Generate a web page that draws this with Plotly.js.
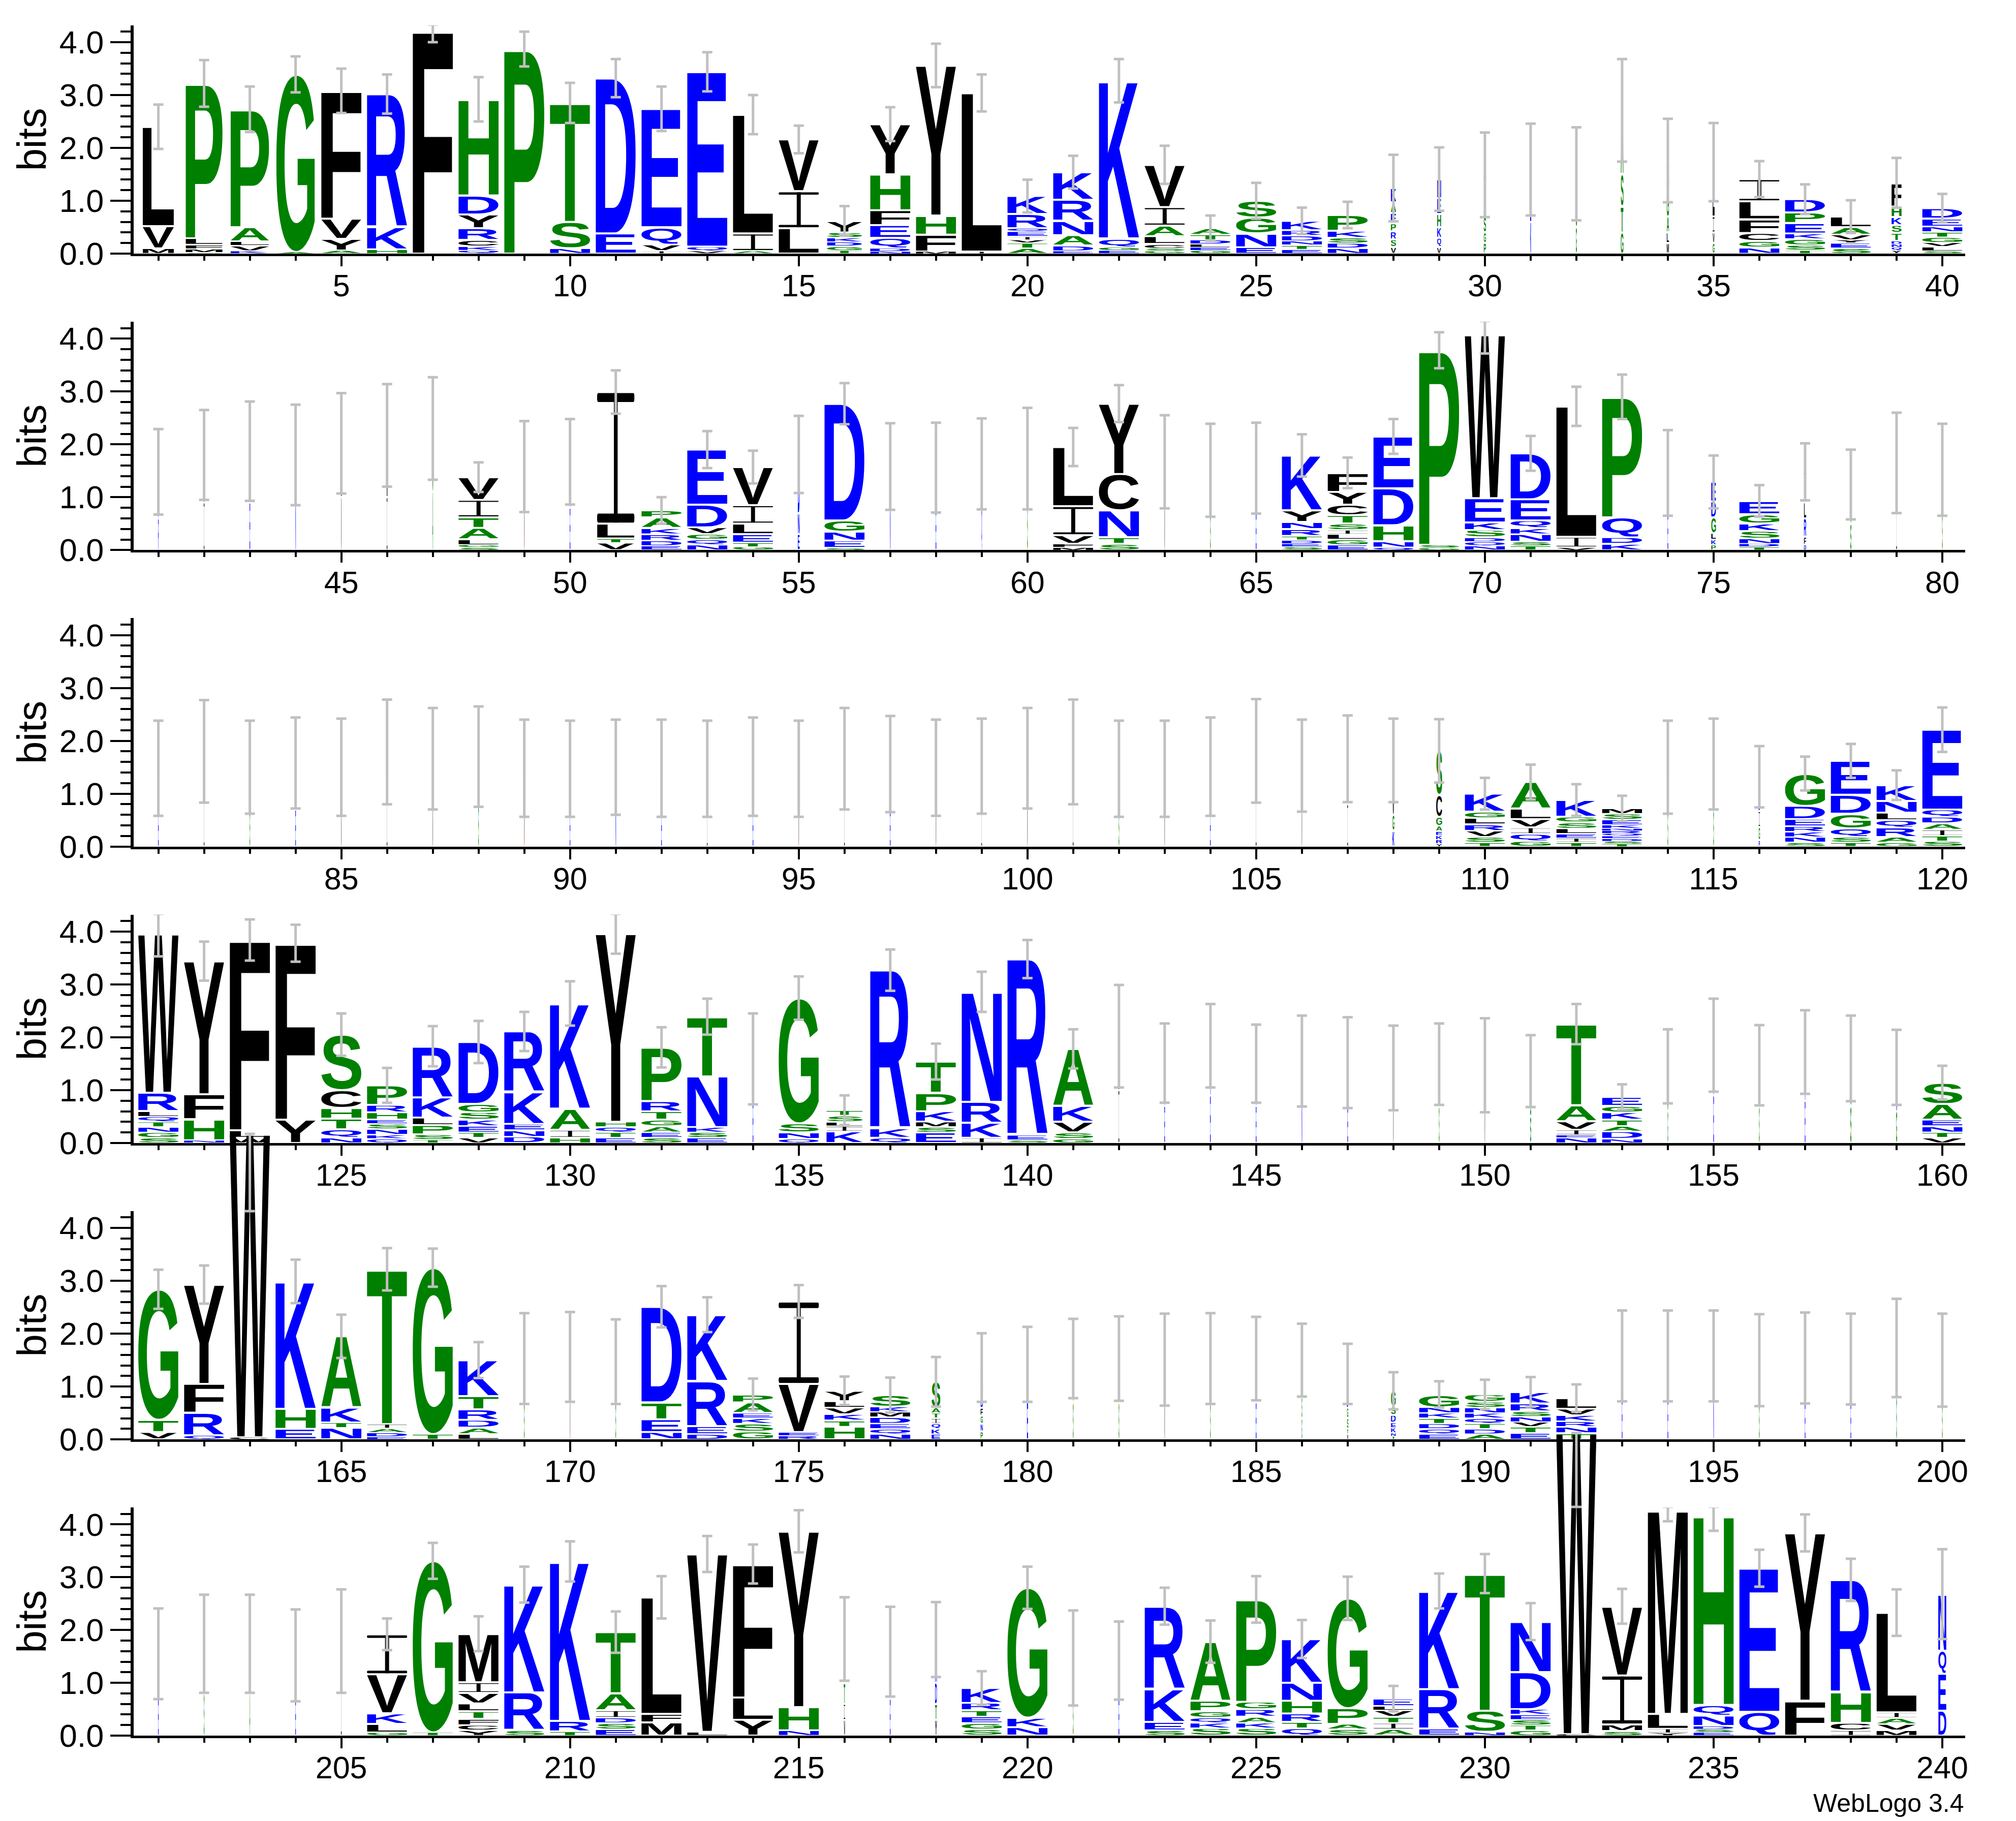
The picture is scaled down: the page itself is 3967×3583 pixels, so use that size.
<!DOCTYPE html>
<html><head><meta charset="utf-8">
<script src="https://cdn.plot.ly/plotly-3.0.1.min.js"></script>
<style>html,body{margin:0;padding:0;background:#fff}#plot{width:3967px;height:3583px}</style>
</head><body><div id="plot"></div>
<script>
// ---------- DATA (letters bottom -> top, height in bits) ----------
const stacks = [
// 1-40
"M.1 V.42 L1.88","G.02 M.07 F.08 L.12 P2.93","K.05 V.1 L.08 A.27 P2.23","A.03 G3.36","A.06 Y.22 V.38 F2.42",
"H.08 K.42 R2.52","F4.22","Q.06 K.08 C.12 R.22 Y.26 D.36 H1.82","P3.87","N.1 S.5 T2.25",
"E.38 D2.94","I.05 V.12 Q.33 E2.24","V.05 Q.08 E3.31","A.05 I.33 L2.25","L.48 I.7 V.98",
"T.06 G.08 D.08 K.08 S.1 Y.22","N.04 D.06 Q.2 E.24 F.28 H.68 Y.95","M.04 F.32 H.36 Y2.84","I.04 L3.0","A.1 T.1 V.06 I.06 E.1 Q.06 R.27 K.34",
"E.05 D.1 A.2 N.27 R.4 K.52","E.06 G.06 Q.17 K2.98","G.05 S.05 C.08 L.15 A.2 I.35 V.8","G.06 E.06 L.06 D.08 T.1 A.12","E.12 N.26 G.3 S.32",
"E.08 T.08 N.08 D.1 R.1 K.18","N.1 D.1 S.1 K.13 P.3","V.12 S.15 R.15 P.15 E.2 A.2 K.27","V.12 Q.18 K.2 H.25 E.3 N.36","P.2 G.2 S.3 A.4 T.39",
"K.6 E.5 N.49","G.5 S.5 A.51","G.4 T.5 S.6 A1.21","M.2 L.2 A.3 G.5 S.56","G.2 V.2 I.3 L1.03",
"N.12 G.12 C.15 F.26 L.34 I.42","T.06 S.1 G.12 K.1 E.2 P.2 D.25","S.1 E.1 Y.06 V.1 A.14 L.2","Y.06 Q.06 N.06 D.06 T.15 S.15 K.15 H.2 F.45","S.05 L.08 V.08 G.1 T.1 N.1 E.15 D.2",
// 41-80
"R.6 K.88","I.9 L.9","E.9 D.97","N.9 K.9","V1.0 L1.02",
"I1.0 L1.17","A1.1 G1.2","S.05 G.05 L.1 A.22 T.2 I.33 V.43","V.8 L.78","E.8 K.87",
"V.14 T.08 L.28 I2.49","E.08 D.1 R.12 K.12 A.2 P.13","N.1 Q.1 G.1 V.13 D.43 E1.04","G.06 T.08 E.16 L.2 I.35 V.72","E.3 N.4 D1.11",
"S.04 E.14 N.17 G.21 D2.21","N.8 K.78","E.8 K.76","Q.8 D.83","S.9 G.83",
"M.05 F.07 V.16 I.55 L1.12","S.12 T.12 N.51 C.69 Y1.33","V.8 L.87","S.7 G.81","E.7 K.85",
"S.06 E.06 D.07 T.08 R.13 N.13 Y.22 K1.04","E.1 G.1 L.1 I.08 S.12 T.16 C.2 Y.24 F.36","Q.05 N.12 H.3 D.7 E.98","G.04 S.06 P3.68","N.08 Q.08 D.08 S.14 K.14 E.46 W3.09",
"T.08 S.08 N.14 K.12 Q.14 E.4 D.87","V.05 I.2 L2.47","K.12 D.12 Q.38 P2.28","E.7 K.76","P.1 K.1 L.12 G.3 D.3 E.37",
"T.06 D.06 N.1 S.14 K.14 G.18 E.25","D.1 F.15 R.35 L.3 I.58","S.5 G.74","I.8 L.85","S.7 G.82",
// 81-120
"E.7 K.78","I.9 L.9","S.7 G.8","E.7 K.88","V.7 L.8",
"I.9 L.89","V.8 L.86","S.8 G.9","V.7 L.78","E.7 K.77",
"N.7 K.8","E.7 D.78","I.7 L.77","E.7 K.81","V.7 L.77",
"I.8 L.86","E.7 K.86","V.7 L.79","I.7 L.82","V.8 L.87",
"I.9 L.89","S.7 G.77","V.7 L.77","E.7 K.81","I.9 L.91",
"V.7 L.83","I.8 L.86","K.3 G.3 V.4 A.63","Y.05 R.08 K.08 E.08 A.1 G.17 C.42 S.83","T.08 S.1 V.12 R.12 L.12 G.12 K.34",
"G.1 Q.14 I.12 V.16 L.2 A.5","T.08 I.08 E.08 L.1 S.12 G.1 K.32","T.05 S.05 D.05 E.05 Q.05 R.05 N.04 K.07 E.1 S.11 M.1","S.7 G.8","S.7 G.86",
"R.12 G.25 I.3 D.65","S.08 N.1 K.1 R.1 E.14 D.25 G.61","T.08 S.1 Q.16 G.28 D.36 E.64","G.08 A.1 R.18 Q.14 L.14 N.22 K.3","S.1 T.1 I.12 A.12 D.12 Q.14 E1.51",
// 121-160
"S.1 G.1 N.1 T.1 Q.1 L.1 R.35 W3.0","N.05 H.4 F.47 Y2.52","W.1 L.14 F3.6","Y.44 F3.34","N.1 Q.16 T.2 H.2 C.34 S1.05",
"Q.08 K.08 N.1 S.1 E.08 H.14 R.14 P.37","T.06 S.1 P.18 L.14 K.38 R.97","V.1 T.1 E.12 K.12 S.14 G.16 D1.17","D.12 N.12 E.12 K.6 R1.15","H.1 I.15 A.4 K1.99",
"E.1 T.1 Q.1 H.1 Y3.56","S.1 E.1 A.12 G.12 T.16 R.19 P1.02","E.1 S.1 K.1 N.96 T1.13","E.8 K.79","Q.08 N.12 S.17 G2.37",
"K.22 I.1 L.08 S.12 T.1","Q.1 K.18 R2.99","E.2 S.1 M.1 K.2 P.35 T.59","I.1 K.28 R.4 N2.08","S.05 E.1 R3.33",
"G.08 S.12 V.2 K.3 A1.08","I1.0 L1.02","E.7 K.81","E.9 K.94","E.7 K.8",
"N.7 K.85","E.7 D.82","V.7 L.72","S.7 G.79","V.7 L.77",
"S.5 G.5 K.36","N.1 E.05 I.1 V.16 A.3 T1.54","N.08 D.14 A.1 T.12 K.14 G.12 E.17","G.6 S.85","E.9 K.95",
"S.7 G.77","E.8 K.92","S.7 G.9","G.6 N.83","V.1 T.1 N.12 E.12 A.3 S.4",
// 161-200
"V.14 T.23 G2.47","Q.08 R.42 F.55 Y1.88","C.04 W5.74","E.2 H.38 K2.41","N.22 T.1 K.28 A1.35",
"E.05 D.08 A.08 I.08 T2.93","T.1 G3.15","L.1 A.12 D.15 R.2 T.25 K.68","S.7 G.83","V.7 L.86",
"S.7 G.77","N.14 E.24 T.32 D1.81","D.1 E.15 R.86 K1.25","G.15 S.15 K.1 E.1 A.2 P.15","R.07 E.07 V.91 I1.56",
"H.24 T.12 K.12 V.12 L.12 Y.2","N.1 Q.1 E.1 D.12 M.1 K.1 S.22","E.1 K.1 Q.1 I.1 T.1 A.1 S.49","P.15 N.15 G.15 F.15 D.2 S.56","E.7 K.72",
"S.7 G.83","S.7 G.83","V.7 L.81","S.7 G.83","E.7 K.83",
"G.4 S.4 V.7","V.1 T.1 S.2 G.2 D.64","T.06 N.06 K.1 E.1 D.14 S.16 G.3","E.1 Q.1 D.1 T.1 K.1 N.11 G.24","A.1 D.1 T.1 Q.1 K.1 N.1 S.11 G.14",
"E.12 T.12 V.09 N.1 S.1 R.15 K.22","T.12 N.12 R.1 K.12 V.12 L.2","E.8 K.78","E.8 K.78","N.8 K.78",
"S.7 G.8","E.7 K.84","E.7 K.82","S.8 G.93","S.7 G.8",
// 201-240
"E.7 K.85","S.8 G.94","A.8 G.94","E.7 K.82","I.9 L.89",
"G.06 L.16 K.2 V.74 I.76","T.06 G3.25","Y.1 C.1 F.12 T.14 L.15 V.2 I.2 M.92","S.1 R.72 K2.04","T.08 R.2 K3.02",
"E.12 S.12 D.1 I.14 A.32 T1.16","M.25 F.16 L2.21","L.07 V3.37","Y.3 L.42 F2.53","N.1 H.44 Y3.33",
"V.3 I.3 T.4 G.83","E.7 K.89","Y.3 T.3 D.4 R.4 K.42","S.12 G.12 E.12 T.12 R.14 K.28","N.16 K.18 G2.46",
"S.7 G.77","E.7 K.72","S.1 E.16 K.62 R1.57","S.14 K.1 Q.1 G.12 P.2 A1.12","S.14 K.1 A.12 R.14 G.14 P1.94",
"Q.14 T.12 R.16 H.24 N.34 K.83","S.12 A.1 P.3 G2.08","A.12 I.12 T.12 V.12 L.08 E.14","E.13 R.75 K1.86","N.07 S.4 T2.6",
"G.1 T.1 S.1 E.1 K.1 D.7 N.96","C.03 W5.7","S.09 M.12 I.93 V1.31","Y.05 I.08 L.28 M3.87","E.06 S.06 D.06 N.2 Q.2 H3.59",
"Q.45 E2.72","F.66 Y3.18","I.1 C.14 H.58 R2.13","M.1 V.12 A.12 I.1 L1.89","D.47 E.7 Q.44 N1.07"
];

// stack width as a fraction of the full column width
const widthFrac = [
.78,.92,.96,.96,1,1,1,1,1,1, 1,1,1,1,1,.87,1,1,1,1, 1,1,1,1,1,1,1,.13,.1,.06, .03,.03,.07,.06,.05,1,1,1,.25,1,
.02,.02,.02,.02,.02,.02,.02,1,.02,.02, .93,1,1,1,.05,1,.02,.02,.02,.02, 1,1,.02,.02,.02,1,1,1,1,1, 1,1,1,.02,.12,1,.06,.03,.02,.02,
.02,.02,.02,.02,.02,.02,.02,.02,.02,.02, .02,.02,.02,.02,.02,.02,.02,.02,.02,.02, .02,.02,.02,.02,.02,.02,.02,.05,.15,1, 1,1,1,.02,.02,.04,1,1,1,1,
1,1,1,1,1,1,1,1,1,1, 1,1,1,.02,1,.9,1,1,1,1, 1,.02,.02,.02,.02,.02,.02,.02,.02,.02, .03,1,1,.02,.02,.02,.02,.03,.03,1,
1,1,1,1,1,1,1,1,.02,.02, .02,1,1,1,1,1,1,.22,.06,.03, .02,.02,.02,.02,.02,.02,.04,.12,1,1, 1,1,.02,.02,.02,.02,.02,.02,.02,.02,
.02,.02,.02,.02,.02,1,1,1,1,1, 1,1,1,1,1,.04,.02,.05,1,1, .02,.02,1,1,1,1,1,1,1,1, 1,1,1,1,1,1,1,1,1,.2
];

// half-length of each error bar (bits)
const errHalf = [
.42,.44,.43,.34,.42,.37,.22,.42,.33,.38, .36,.42,.37,.37,.26,.28,.32,.41,.35,.31, .31,.41,.36,.24,.34,.25,.25,.63,.6,.8, .87,.88,.97,.79,.74,.34,.28,.31,.47,.27,
.81,.85,.94,.95,.95,.97,.97,.28,.86,.81, .41,.25,.35,.31,.73,.39,.82,.85,.86,.96, .36,.35,.88,.88,.86,.4,.29,.33,.34,.35, .33,.37,.42,.81,.5,.3,.54,.66,.95,.87,
.9,.97,.88,.86,.92,.99,.96,.95,.92,.91, .9,.92,.91,.93,.91,.96,.91,.91,.9,.95, .99,.91,.91,.93,.98,.87,.82,.79,.6,.3, .33,.3,.24,.88,.86,.58,.32,.32,.28,.42,
.42,.37,.39,.35,.4,.33,.38,.4,.37,.42, .38,.38,.34,.86,.41,.28,.39,.34,.38,.36, .37,.97,.75,.79,.74,.86,.86,.8,.77,.89, .68,.38,.24,.7,.88,.76,.79,.81,.71,.32,
.37,.36,.55,.41,.41,.4,.36,.34,.86,.85, .8,.39,.33,.3,.31,.27,.33,.47,.65,.71, .75,.8,.87,.86,.79,.69,.57,.35,.25,.28, .28,.26,.86,.86,.86,.87,.86,.86,.93,.88,
.86,.93,.93,.87,.98,.3,.34,.33,.34,.38, .39,.4,.34,.37,.4,.79,.85,.71,.32,.4, .9,.74,.35,.4,.44,.36,.41,.24,.33,.37, .35,.53,.33,.22,.29,.35,.35,.4,.44,.85
];
// error bars that do not sit on the stack top: position -> [low, high] (bits)
const errRangeOverride = {163: [4.32, 5.41], 232: [4.33, 5.39]};

const blackRes = "FLVYWIMC", blueRes = "DEKRNQ", greenRes = "GPASTH";
const xTickStep = 5, yTickStep = 1, perRow = 40, nRows = 6;
const footer = "WebLogo 3.4";

// ---------- GEOMETRY / STYLE ----------
const W = 3967, H = 3583;
const M = {l: 263, r: 100, t: 49, b: 168};
const plotH = H - M.t - M.b;
const PXB = 104;            // px per bit
const YMAX = 4.32, YEXT = 6.3;
const FULLW = 0.88;         // full stack width in position units
const FONT = "Liberation Sans";
const rowBottomPx = r => 499 + 583.3 * r;
const domFor = (r, bits) => {
  const b = (H - M.b - rowBottomPx(r)) / plotH;
  return [Math.max(0, b), Math.min(1, b + bits * PXB / plotH)];
};
const colorOf = {};
for (const c of blackRes) colorOf[c] = "#000000";
for (const c of blueRes) colorOf[c] = "#0000ff";
for (const c of greenRes) colorOf[c] = "#008000";

const cv = document.createElement("canvas");
const ctx = cv.getContext("2d");
ctx.font = `bold 200px "${FONT}"`;
const gcache = {};
function glyph(ch) {
  if (gcache[ch]) return gcache[ch];
  const col = colorOf[ch] || "#000000";
  let svg;
  if (ch === "I") {
    svg = `<svg xmlns="http://www.w3.org/2000/svg" viewBox="0 0 100 100" preserveAspectRatio="none"><g fill="${col}"><rect x="0" y="0" width="100" height="7" rx="3"/><rect x="45" y="0" width="10" height="100"/><rect x="0" y="93" width="100" height="7" rx="3"/></g></svg>`;
  } else {
    const m = ctx.measureText(ch);
    const x0 = -m.actualBoundingBoxLeft, x1 = m.actualBoundingBoxRight;
    const y0 = -m.actualBoundingBoxAscent, y1 = m.actualBoundingBoxDescent;
    svg = `<svg xmlns="http://www.w3.org/2000/svg" viewBox="${x0} ${y0} ${x1 - x0} ${y1 - y0}" preserveAspectRatio="none"><text x="0" y="0" font-family="${FONT}" font-weight="bold" font-size="200" fill="${col}">${ch}</text></svg>`;
  }
  return (gcache[ch] = "data:image/svg+xml;charset=utf-8," + encodeURIComponent(svg));
}
const sfx = n => (n === 1 ? "" : String(n));

const layout = {
  width: W, height: H, margin: M, showlegend: false,
  paper_bgcolor: "white", plot_bgcolor: "rgba(0,0,0,0)",
  font: {family: FONT, color: "black"},
  images: [], annotations: []
};

// need extended (taller) axes for rows whose stacks rise above YMAX
const needExt = {};
for (let i = 0; i < stacks.length; i++) {
  const tot = stacks[i].split(" ").reduce((s, t) => s + parseFloat(t.slice(1)), 0);
  if (tot > YMAX + 0.05) needExt[Math.floor(i / perRow)] = true;
}
const extId = {};
let nextId = nRows + 1;

for (let r = 0; r < nRows; r++) {
  const n = r + 1;
  const xr = [perRow * r + 0.46, perRow * r + perRow + 0.5];
  layout["xaxis" + sfx(n)] = {
    domain: [0, 1], range: xr, anchor: "y" + sfx(n),
    showline: true, linewidth: 5, linecolor: "black", showgrid: false, zeroline: false,
    ticks: "outside", tickmode: "linear", tick0: 0, dtick: xTickStep, ticklen: 20, tickwidth: 4, tickcolor: "black",
    tickfont: {family: FONT, size: 61, color: "black"}, ticklabelstandoff: -14,
    minor: {ticks: "outside", tick0: 0, dtick: 1, ticklen: 9, tickwidth: 4, tickcolor: "black", showgrid: false},
    fixedrange: true
  };
  layout["yaxis" + sfx(n)] = {
    domain: domFor(r, YMAX), range: [0, YMAX], anchor: "x" + sfx(n),
    showline: true, linewidth: 6, linecolor: "black", showgrid: false, zeroline: false,
    ticks: "outside", tickmode: "linear", tick0: 0, dtick: yTickStep, tickformat: ".1f",
    ticklen: 40, tickwidth: 4, tickcolor: "black",
    tickfont: {family: FONT, size: 63, color: "black"},
    minor: {ticks: "outside", tick0: 0, dtick: 0.2, ticklen: 20, tickwidth: 4, tickcolor: "black", showgrid: false},
    title: {text: "bits", font: {family: FONT, size: 80, color: "black"}, standoff: 2},
    fixedrange: true
  };
  if (needExt[r]) {
    const e = nextId++;
    extId[r] = e;
    layout["xaxis" + e] = {domain: [0, 1], range: xr, anchor: "y" + e, visible: false, fixedrange: true};
    layout["yaxis" + e] = {domain: domFor(r, YEXT), range: [0, YEXT], anchor: "x" + e, visible: false, fixedrange: true};
  }
}

const errTraces = {};
function errTrace(key, xa, ya) {
  if (!errTraces[key]) errTraces[key] = {
    type: "scatter", mode: "markers", x: [], y: [], xaxis: xa, yaxis: ya,
    marker: {size: 2, opacity: 0}, hoverinfo: "skip", showlegend: false,
    error_y: {type: "data", symmetric: false, array: [], arrayminus: [], color: "#c0c0c0", thickness: 5, width: 10}
  };
  return errTraces[key];
}

for (let i = 0; i < stacks.length; i++) {
  const pos = i + 1;
  const r = Math.floor(i / perRow);
  const toks = stacks[i].split(" ").map(t => ({ch: t[0], h: parseFloat(t.slice(1))}));
  const total = toks.reduce((s, t) => s + t.h, 0);
  const tall = total > YMAX + 0.05;
  const axN = tall ? extId[r] : r + 1;
  const xa = "x" + sfx(axN), ya = "y" + sfx(axN);
  const w = FULLW * widthFrac[i];
  let y = 0;
  for (const t of toks) {
    const pad = Math.min(0.018, t.h * 0.12);
    layout.images.push({
      source: glyph(t.ch), xref: xa, yref: ya,
      x: pos - w / 2, y: y + t.h - pad, sizex: w, sizey: Math.max(t.h - 2 * pad, 0.002),
      xanchor: "left", yanchor: "top", sizing: "stretch", layer: "below"
    });
    y += t.h;
  }
  // error bar
  let lo, hi;
  if (errRangeOverride[pos]) { [lo, hi] = errRangeOverride[pos]; }
  else { lo = total - errHalf[i]; hi = Math.min(total + errHalf[i], YMAX + 0.015); }
  const c = total < lo ? lo : total;
  const tr = errTrace(xa + ya, xa, ya);
  tr.x.push(pos); tr.y.push(c);
  tr.error_y.array.push(Math.max(0, hi - c));
  tr.error_y.arrayminus.push(Math.max(0, c - lo));
}

layout.annotations.push({
  xref: "paper", yref: "paper", x: 1, y: (H - M.b - 3548) / plotH,
  xanchor: "right", yanchor: "middle", showarrow: false,
  text: footer, font: {family: FONT, size: 50, color: "black"}
});

Plotly.newPlot("plot", Object.values(errTraces), layout, {staticPlot: true});
</script>
</body></html>
